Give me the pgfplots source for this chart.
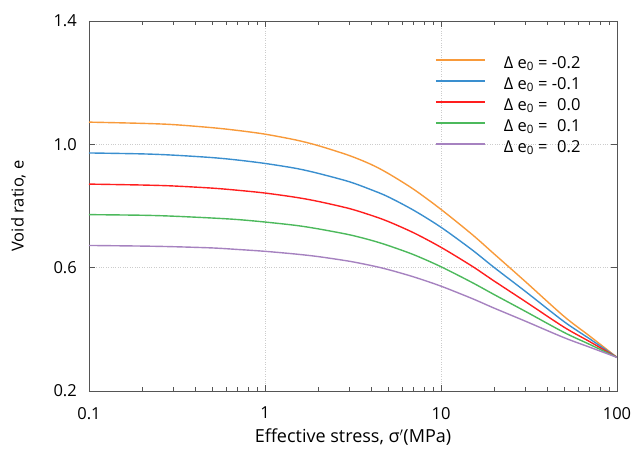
\documentclass[border=0pt]{standalone}
\usepackage{pgfplots}
\pgfplotsset{compat=1.18}
\usepackage{fontspec}
\setmainfont{Open Sans}
\definecolor{corange}{HTML}{F89A3A}
\definecolor{cblue}{HTML}{3A8FCF}
\definecolor{cred}{HTML}{FF1E1E}
\definecolor{cgreen}{HTML}{4CB95C}
\definecolor{cpurple}{HTML}{A682C0}
\definecolor{axgray}{HTML}{555555}
\begin{document}
\begin{tikzpicture}
\begin{axis}[
  name=ax,
  scale only axis,
  width=528pt, height=370pt,
  xmode=log, xmin=0.1, xmax=100,
  ymin=0.2, ymax=1.4,
  ytick={0.2,0.6,1.0,1.4},
  yticklabels={0.2,0.6,1.0,1.4},
  xtick={0.1,1,10,100},
  xticklabels={0.1,1,10,100},
  axis line style={axgray, line width=0.8pt},
  tick style={axgray, line width=0.6pt},
  major tick length=6pt, minor tick length=4pt,
  tick align=inside,
  grid=major,
  major grid style={dotted, gray!40, line width=0.6pt},
  xticklabel style={font=\fontsize{16.5}{19}\selectfont, anchor=north, inner sep=0pt, yshift=-16pt},
  yticklabel style={font=\fontsize{16.5}{19}\selectfont, anchor=east, inner sep=0pt, xshift=-12pt},
  xlabel={Effective stress, σ$'$(MPa)},
  ylabel={Void ratio, e},
  xlabel style={font=\fontsize{18}{21}\selectfont, at={(axis description cs:0.5,0)}, anchor=base, inner sep=0pt, yshift=-52pt},
  ylabel style={font=\fontsize{16.5}{19}\selectfont, at={(axis description cs:-0.1335,0.5)}, anchor=center, inner sep=0pt},
  legend style={draw=none, fill=none, at={(rel axis cs:0.655,0.905)}, anchor=north west,
    inner sep=0pt,
    nodes={font=\fontsize{16.5}{19}\selectfont, inner sep=0pt, text height=12pt, text depth=3pt},
    row sep=6pt, /tikz/every odd column/.style={column sep=18pt}},
  legend cell align=left,
  legend image code/.code={\draw[#1, sharp plot, line width=1.8pt] (0pt,4pt) -- (49pt,4pt);},
]
\addplot[corange, line width=1.4pt, smooth] coordinates {(0.1,1.072) (0.2,1.068) (0.3,1.064) (0.5,1.054) (0.7,1.045) (1,1.033) (1.5,1.014) (2,0.996) (3,0.964) (4,0.935) (5,0.906) (7,0.854) (10,0.789) (15,0.708) (20,0.645) (30,0.556) (50,0.442) (70,0.378) (100,0.309)};
\addlegendentry{Δ e\textsubscript{0} = -0.2}
\addplot[cblue, line width=1.4pt, smooth] coordinates {(0.1,0.972) (0.2,0.969) (0.3,0.965) (0.5,0.957) (0.7,0.949) (1,0.938) (1.5,0.922) (2,0.906) (3,0.879) (4,0.853) (5,0.830) (7,0.786) (10,0.731) (15,0.658) (20,0.601) (30,0.524) (50,0.425) (70,0.369) (100,0.309)};
\addlegendentry{Δ e\textsubscript{0} = -0.1}
\addplot[cred, line width=1.4pt, smooth] coordinates {(0.1,0.871) (0.2,0.868) (0.3,0.865) (0.5,0.858) (0.7,0.851) (1,0.842) (1.5,0.828) (2,0.815) (3,0.792) (4,0.770) (5,0.750) (7,0.713) (10,0.666) (15,0.605) (20,0.557) (30,0.491) (50,0.407) (70,0.360) (100,0.309)};
\addlegendentry{Δ e\textsubscript{0} = \phantom{-}0.0}
\addplot[cgreen, line width=1.4pt, smooth] coordinates {(0.1,0.772) (0.2,0.770) (0.3,0.767) (0.5,0.761) (0.7,0.756) (1,0.748) (1.5,0.737) (2,0.726) (3,0.707) (4,0.689) (5,0.672) (7,0.642) (10,0.603) (15,0.552) (20,0.513) (30,0.459) (50,0.390) (70,0.351) (100,0.309)};
\addlegendentry{Δ e\textsubscript{0} = \phantom{-}0.1}
\addplot[cpurple, line width=1.4pt, smooth] coordinates {(0.1,0.672) (0.2,0.670) (0.3,0.668) (0.5,0.664) (0.7,0.659) (1,0.653) (1.5,0.644) (2,0.636) (3,0.621) (4,0.607) (5,0.594) (7,0.570) (10,0.540) (15,0.500) (20,0.469) (30,0.427) (50,0.373) (70,0.342) (100,0.309)};
\addlegendentry{Δ e\textsubscript{0} = \phantom{-}0.2}
\end{axis}
\pgfresetboundingbox
\path (ax.south west) ++(-89pt,-63pt) rectangle ([shift={(16pt,21pt)}]ax.north east);
\end{tikzpicture}
\end{document}
